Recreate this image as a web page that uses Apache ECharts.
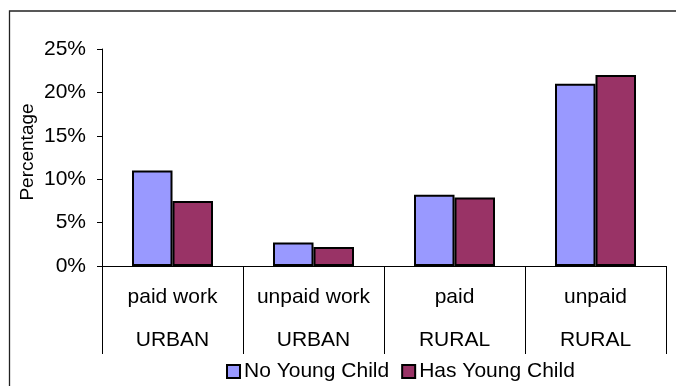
<!DOCTYPE html>
<html>
<head>
<meta charset="utf-8">
<script src="https://cdn.jsdelivr.net/npm/echarts@6/dist/echarts.min.js"></script>
<style>
  html, body { margin: 0; padding: 0; background: #fff; }
  #chart { width: 676px; height: 386px; }
</style>
</head>
<body>
<div id="chart"></div>
<script>
// Share of women in each work type, by presence of a young child
const workTypes = ['paid work', 'unpaid work', 'paid', 'unpaid'];
const areas = ['URBAN', 'URBAN', 'RURAL', 'RURAL'];
const noYoungChild = [11, 2.7, 8.2, 21];
const hasYoungChild = [7.5, 2.2, 7.9, 22];
const seriesNames = ['No Young Child', 'Has Young Child'];
const yAxisTitle = 'Percentage';
const yTicks = { min: 0, max: 25, interval: 5 };

const FONT = '"Liberation Sans", Arial, sans-serif';
const categories = workTypes.map((w, i) => w + '\n' + areas[i]);

const chart = echarts.init(document.getElementById('chart'), null, { renderer: 'canvas' });

chart.setOption({
  animation: false,
  backgroundColor: '#ffffff',
  textStyle: { fontFamily: FONT },
  graphic: [
    {
      // outer frame (continues past the right and bottom edges)
      type: 'rect',
      shape: { x: 9.5, y: 11, width: 720, height: 420 },
      style: { fill: 'none', stroke: '#222', lineWidth: 1.3 },
      silent: true
    },
    {
      // vertical axis title
      type: 'text',
      x: 28,
      y: 152,
      rotation: Math.PI / 2,
      style: {
        text: yAxisTitle,
        font: '19px "Liberation Sans", Arial, sans-serif',
        fill: '#000',
        align: 'center',
        verticalAlign: 'middle'
      },
      silent: true
    }
  ],
  grid: { left: 102, right: 10, top: 49, bottom: 120 },
  legend: {
    left: 221,
    top: 356,
    itemWidth: 13,
    itemHeight: 13,
    itemGap: 12,
    icon: 'rect',
    textStyle: { fontFamily: FONT, fontSize: 21, color: '#000', padding: [0, 0, 0, -1] },
    data: seriesNames
  },
  xAxis: {
    type: 'category',
    data: categories,
    axisLine: { lineStyle: { color: '#000', width: 1 } },
    axisTick: { show: true, interval: 0, length: 88, lineStyle: { color: '#000', width: 1 } },
    axisLabel: {
      interval: 0,
      margin: 10,
      fontFamily: FONT,
      fontSize: 21,
      color: '#000',
      lineHeight: 43
    }
  },
  yAxis: {
    type: 'value',
    min: yTicks.min,
    max: yTicks.max,
    interval: yTicks.interval,
    splitLine: { show: false },
    axisLine: { show: true, lineStyle: { color: '#000', width: 1 } },
    axisTick: { show: true, length: 5, lineStyle: { color: '#000', width: 1 } },
    axisLabel: {
      margin: 16,
      fontFamily: FONT,
      fontSize: 21,
      color: '#000',
      formatter: '{value}%'
    }
  },
  series: [
    {
      name: seriesNames[0],
      type: 'bar',
      data: noYoungChild,
      barWidth: 40.5,
      barGap: '0%',
      itemStyle: { color: '#9999FF', borderColor: '#000', borderWidth: 2 }
    },
    {
      name: seriesNames[1],
      type: 'bar',
      data: hasYoungChild,
      barWidth: 40.5,
      barGap: '0%',
      itemStyle: { color: '#993366', borderColor: '#000', borderWidth: 2 }
    }
  ]
});
</script>
</body>
</html>
